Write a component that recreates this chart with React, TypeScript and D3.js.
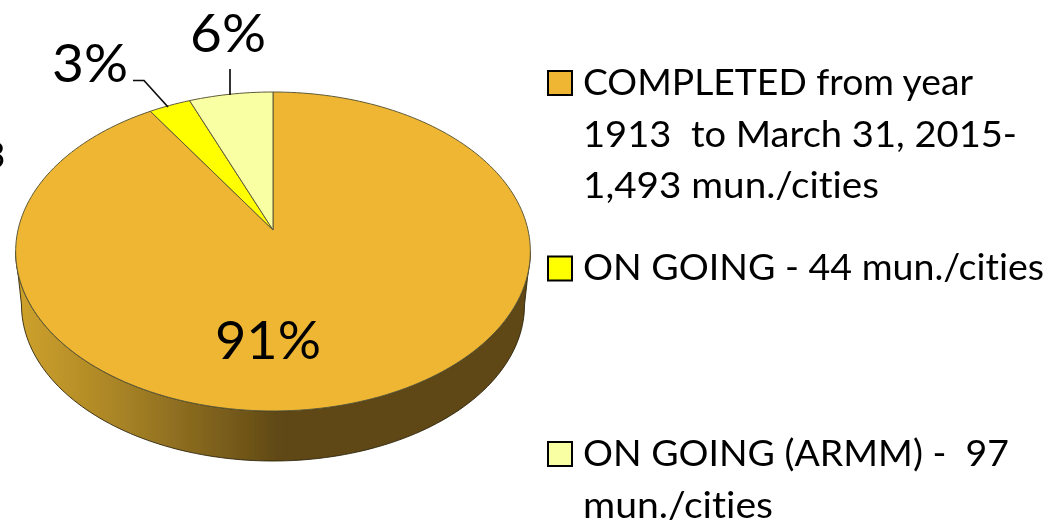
import React from "react";
import * as d3 from "d3";

const W = 1052, H = 522;
const sliceNames = ["COMPLETED", "ON GOING", "ON GOING (ARMM)"];
const sliceValues = [91, 3, 6];
const sliceColors = ["#EEB632", "#FFFF00", "#F9FFA3"];
const sliceLabels = ["91%", "3%", "6%"];
const legendLines = [
  ["COMPLETED from year", "1913  to March 31, 2015-", "1,493 mun./cities"],
  ["ON GOING - 44 mun./cities"],
  ["ON GOING (ARMM) -  97", "mun./cities"],
];
const legendLineWidths = [[390, 434, 296], [461], [426, 190]];
const legendFirstBaselines = [95, 280, 466];
const legendLineStep = 51.5;

// Projective mapping of a tilted disc: apex is off-centre, as in the picture
const apex = { x: 273, y: 230 };
const k = -0.1348, A = 156.6, B = 255;
const project = (a: number, scale = 1) => {
  const u = Math.sin(a) * scale, v = -Math.cos(a) * scale;
  const d = 1 + k * v;
  return [apex.x + (B * u) / d, apex.y + (A * v) / d] as [number, number];
};

const pieGen = d3.pie<number>().sort(null).startAngle(0).endAngle(2 * Math.PI);
const arcs = pieGen(sliceValues);
const line = d3.line();

const slicePath = (s: number, e: number) => {
  const n = Math.max(4, Math.ceil(((e - s) / (2 * Math.PI)) * 240));
  const pts = d3.range(n + 1).map((i) => project(s + ((e - s) * i) / n));
  return line([[apex.x, apex.y], ...pts]) + "Z";
};

// Side wall: front rim of the top face + a slightly narrower rim below
const rimTop = { cx: 273, cy: 251.5, rx: 257.4, ry: 159.5 };
const rimBot = { cx: 273, cy: 305, rx: 251.5, ry: 156 };
const wallPath = (() => {
  const ts = d3.range(0, 121).map((i) => Math.PI - (Math.PI * i) / 120);
  const front = ts.map((t) => [rimTop.cx + rimTop.rx * Math.cos(t), rimTop.cy + rimTop.ry * Math.sin(t)] as [number, number]);
  const back = ts.slice().reverse().map((t) => [rimBot.cx + rimBot.rx * Math.cos(t), rimBot.cy + rimBot.ry * Math.sin(t)] as [number, number]);
  return line([...front, ...back]) + "Z";
})();

const FONT = "Lato, 'Open Sans', sans-serif";

export default function App() {
  const legendSwatchX = 548;
  const swatchYs = [71, 256.5, 442];
  return (
    <svg width={W} height={H} style={{ position: "absolute", left: 0, top: 0, background: "#fff", fontVariantLigatures: "none" }} fontFamily={FONT}>
      <defs>
        <linearGradient id="wall" gradientUnits="userSpaceOnUse" x1={16} x2={530} y1={0} y2={0}>
          <stop offset="0" stopColor="#CFA22C" />
          <stop offset="0.2" stopColor="#A98426" />
          <stop offset="0.52" stopColor="#5E4715" />
          <stop offset="1" stopColor="#5E4715" />
        </linearGradient>
        <filter id="soft" x="-5%" y="-5%" width="110%" height="110%">
          <feGaussianBlur stdDeviation="0.45" />
        </filter>
      </defs>

      <g filter="url(#soft)">
        <path d={wallPath} fill="url(#wall)" stroke="#2e260c" strokeWidth={0.9} />
        {arcs.map((a, i) => (
          <path key={sliceNames[i]} d={slicePath(a.startAngle, a.endAngle)} fill={sliceColors[i]} stroke="#5f5a38" strokeWidth={1} strokeLinejoin="round" />
        ))}

        <path d="M133 80.5 L144 80.5 L168 107" fill="none" stroke="#111" strokeWidth={1.7} />
        <path d="M230 69 L230 95" fill="none" stroke="#111" strokeWidth={1.7} />

        <text x={268} y={359} fontSize={52} textAnchor="middle" textLength={106} lengthAdjust="spacingAndGlyphs" fill="#000">{sliceLabels[0]}</text>
        <text x={90} y={82} fontSize={52} textAnchor="middle" textLength={76} lengthAdjust="spacingAndGlyphs" fill="#000">{sliceLabels[1]}</text>
        <text x={228} y={52} fontSize={52} textAnchor="middle" textLength={76} lengthAdjust="spacingAndGlyphs" fill="#000">{sliceLabels[2]}</text>

        {legendLines.map((lines, i) => (
          <g key={i}>
            <rect x={legendSwatchX} y={swatchYs[i]} width={24} height={24} fill={sliceColors[i]} stroke="#000" strokeWidth={2} />
            {lines.map((l, j) => (
              <text key={j} x={583} y={legendFirstBaselines[i] + j * legendLineStep} fontSize={36} textLength={legendLineWidths[i][j]} lengthAdjust="spacingAndGlyphs" xmlSpace="preserve" fill="#000">{l}</text>
            ))}
          </g>
        ))}
      </g>
      <text x={-15.5} y={168} fontSize={36} fill="#000" filter="url(#soft)">3</text>
    </svg>
  );
}
